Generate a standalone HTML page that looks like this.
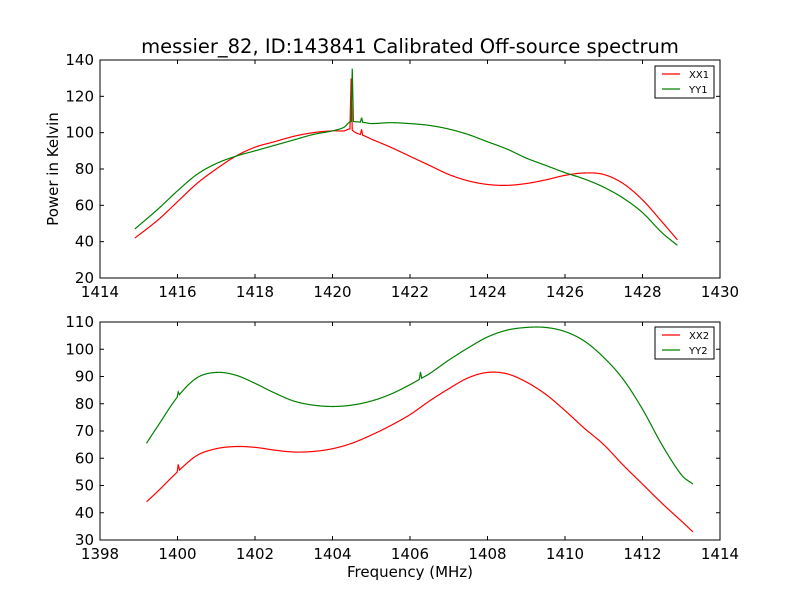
<!DOCTYPE html>
<html><head><meta charset="utf-8"><style>
body{margin:0;background:#fff}
svg text{font-family:"DejaVu Sans","Liberation Sans",sans-serif;fill:#000}
</style></head><body>
<svg id="chart" width="800" height="600" viewBox="0 0 800 600">
<rect width="800" height="600" fill="#fff"/>
</svg>
<script>
const xTicks1=[1414,1416,1418,1420,1422,1424,1426,1428,1430];
const yTicks1=[20,40,60,80,100,120,140];
const xTicks2=[1398,1400,1402,1404,1406,1408,1410,1412,1414];
const yTicks2=[30,40,50,60,70,80,90,100,110];
const xx1Freq=[1414.9,1415.5,1416,1416.5,1417,1417.5,1418,1418.5,1419,1419.5,1420,1420.3,1420.45,1420.6,1420.85,1421,1421.5,1422,1422.5,1423,1423.5,1424,1424.5,1425,1425.5,1426,1426.5,1427,1427.5,1428,1428.5,1428.9];
const xx1Vals=[42,52,62,72,80,87,92,95,98,100,101,101,102,100,98,96.5,92,87,82,77,73.5,71.5,71,72,74,76.5,77.8,77,72,63,51,41];
const xx1SpikeFreq=[1420.48,1420.75];
const xx1SpikeHeight=[28,3];
const yy1Freq=[1414.9,1415.5,1416,1416.5,1417,1417.5,1418,1418.5,1419,1419.5,1420,1420.3,1420.45,1420.6,1420.85,1421,1421.5,1422,1422.5,1423,1423.5,1424,1424.5,1425,1425.5,1426,1426.5,1427,1427.5,1428,1428.5,1428.9];
const yy1Vals=[47,58,68,77,83,87,90,93,96,99,101,103,106,106,105.5,105,105.5,105,104,102,99,95,91,86,82,78,74.5,70,64,56,45,38];
const yy1SpikeFreq=[1420.51,1420.75];
const yy1SpikeHeight=[29,2.5];
const xx2Freq=[1399.2,1399.5,1400,1400.5,1401,1401.5,1402,1402.5,1403,1403.5,1404,1404.5,1405,1405.5,1406,1406.5,1407,1407.5,1408,1408.5,1409,1409.5,1410,1410.5,1411,1411.5,1412,1412.5,1413,1413.3];
const xx2Vals=[44,48,55,61,63.5,64.3,64,63,62.3,62.5,63.5,65.5,68.5,72,76,81,85.5,89.5,91.5,91,88,83.5,77.5,71,65,57.5,50.5,43.5,37,33];
const xx2SpikeFreq=[1400.02];
const xx2SpikeHeight=[2.5];
const yy2Freq=[1399.2,1399.5,1400,1400.5,1401,1401.5,1402,1402.5,1403,1403.5,1404,1404.5,1405,1405.5,1406,1406.25,1406.5,1407,1407.5,1408,1408.5,1409,1409.5,1410,1410.5,1411,1411.5,1412,1412.5,1413,1413.3];
const yy2Vals=[65.5,72,82.5,89.5,91.5,90.5,87.5,84,81,79.5,79,79.5,81,83.5,87,89,91,96,100.5,104.5,107,108,108,106.5,103,97,89,78,65,54,50.5];
const yy2SpikeFreq=[1400.02,1406.27];
const yy2SpikeHeight=[1.5,2.5];

const svg=document.getElementById('chart');
const NS='http://www.w3.org/2000/svg';
function mk(tag,attrs,parent){const e=document.createElementNS(NS,tag);for(const k in attrs)e.setAttribute(k,attrs[k]);(parent||svg).appendChild(e);return e;}

function curve(xs,ys,sf,sh){
  const n=xs.length,m=[];
  for(let i=0;i<n;i++){
    const a=Math.max(0,i-1),b=Math.min(n-1,i+1);
    m.push((ys[b]-ys[a])/(xs[b]-xs[a]));
  }
  const xsS=[];
  for(let i=0;i<n-1;i++){
    const h=xs[i+1]-xs[i],steps=Math.max(2,Math.ceil(h*100));
    for(let k=0;k<steps;k++)xsS.push(xs[i]+k/steps*h);
  }
  xsS.push(xs[n-1]);
  sf.forEach(f=>xsS.push(f));
  xsS.sort((p,q)=>p-q);
  const w=0.03;
  return xsS.map(x=>{
    let j=0;while(j<n-2&&xs[j+1]<x)j++;
    const h=xs[j+1]-xs[j],t=(x-xs[j])/h,t2=t*t,t3=t2*t;
    let y=(2*t3-3*t2+1)*ys[j]+(t3-2*t2+t)*h*m[j]+(-2*t3+3*t2)*ys[j+1]+(t3-t2)*h*m[j+1];
    sf.forEach((f,i)=>{y+=sh[i]*Math.max(0,1-Math.abs(x-f)/w);});
    return [x,y];
  });
}

function panel(cfg){
  const {top,bottom,xMin,xMax,yMin,yMax,xTicks,yTicks,series,legendY,name}=cfg;
  const L=100,R=720;
  const sx=v=>L+(v-xMin)/(xMax-xMin)*(R-L);
  const sy=v=>bottom-(v-yMin)/(yMax-yMin)*(bottom-top);
  const g=mk('g',{});
  
  
  series.forEach(s=>{
    const pts=curve(s.f,s.v,s.sf,s.sh);
    const p=mk('polyline',{points:pts.map(q=>sx(q[0]).toFixed(2)+','+sy(q[1]).toFixed(2)).join(' '),fill:'none',stroke:s.color,'stroke-width':1.2},g);
    
    
  });
  const fr=mk('rect',{x:L,y:top,width:R-L,height:bottom-top,fill:'none',stroke:'#000','stroke-width':1},g);
  
  
  xTicks.forEach(t=>{
    const x=sx(t);
    mk('line',{x1:x,x2:x,y1:bottom,y2:bottom-4,stroke:'#000'},g);
    mk('line',{x1:x,x2:x,y1:top,y2:top+4,stroke:'#000'},g);
    const tx=mk('text',{x:x,y:bottom+19,'text-anchor':'middle','font-size':15},g);
    tx.textContent=t;
    
    
  });
  yTicks.forEach(t=>{
    const y=sy(t);
    mk('line',{x1:L,x2:L+4,y1:y,y2:y,stroke:'#000'},g);
    mk('line',{x1:R,x2:R-4,y1:y,y2:y,stroke:'#000'},g);
    const tx=mk('text',{x:L-6,y:y+5,'text-anchor':'end','font-size':15},g);
    tx.textContent=t;
    
    
  });
  const lg=mk('g',{},g);
  
  
  mk('rect',{x:655,y:legendY,width:59,height:32,fill:'#fff',stroke:'#000'},lg);
  series.forEach((s,i)=>{
    const yy=legendY+8+i*15;
    mk('line',{x1:662,x2:680,y1:yy,y2:yy,stroke:s.color,'stroke-width':1.2},lg);
    const t=mk('text',{x:689,y:yy+4,'font-size':10},lg);
    t.textContent=s.label;
    
    
  });
}
panel({name:'top-panel',top:60,bottom:278,xMin:1414,xMax:1430,yMin:20,yMax:140,xTicks:xTicks1,yTicks:yTicks1,legendY:66,
  series:[{label:'XX1',color:'#ff0000',f:xx1Freq,v:xx1Vals,sf:xx1SpikeFreq,sh:xx1SpikeHeight},
          {label:'YY1',color:'#008000',f:yy1Freq,v:yy1Vals,sf:yy1SpikeFreq,sh:yy1SpikeHeight}]});
panel({name:'bottom-panel',top:322,bottom:540,xMin:1398,xMax:1414,yMin:30,yMax:110,xTicks:xTicks2,yTicks:yTicks2,legendY:327,
  series:[{label:'XX2',color:'#ff0000',f:xx2Freq,v:xx2Vals,sf:xx2SpikeFreq,sh:xx2SpikeHeight},
          {label:'YY2',color:'#008000',f:yy2Freq,v:yy2Vals,sf:yy2SpikeFreq,sh:yy2SpikeHeight}]});

const title=mk('text',{x:410,y:53,'text-anchor':'middle','font-size':19.5});
title.textContent='messier_82, ID:143841 Calibrated Off-source spectrum';


const yl=mk('text',{x:58,y:169,'text-anchor':'middle','font-size':15,transform:'rotate(-90 58 169)'});
yl.textContent='Power in Kelvin';


const xl=mk('text',{x:410,y:577,'text-anchor':'middle','font-size':15});
xl.textContent='Frequency (MHz)';


</script>
</body></html>
